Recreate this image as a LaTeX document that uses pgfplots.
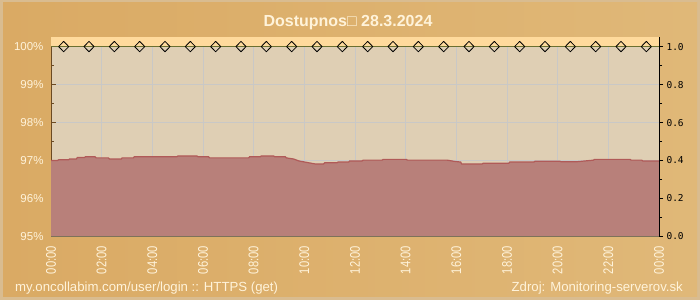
\documentclass[border=0pt]{standalone}
\usepackage{fontspec}
\setmainfont{Liberation Sans}
\newfontfamily\narrowfont[FakeStretch=0.8]{Liberation Sans}
\newfontfamily\footfont{Liberation Sans}
\newfontfamily\monofont{DejaVu Sans Mono}
\usepackage{pgfplots}
\pgfplotsset{compat=1.18}
\definecolor{bordc}{HTML}{D9BC90}
\definecolor{bgl}{HTML}{DAAA64}
\definecolor{bgr}{HTML}{E0B878}
\definecolor{cream}{HTML}{FFF3DA}
\definecolor{plotbg}{HTML}{DFCFB4}
\definecolor{bandc}{HTML}{FFDA9C}
\definecolor{areac}{HTML}{B8807A}
\definecolor{linec}{HTML}{B05A58}
\definecolor{gridc}{HTML}{C9C8C6}
\definecolor{olive}{HTML}{6B7030}
\definecolor{leftax}{HTML}{6B4A22}
\definecolor{botax}{HTML}{5E6B4A}

\pgfplotstableread{
h v
0 97.00
0.26 97.00
0.30 97.02
0.69 97.02
0.73 97.04
1.00 97.04
1.04 97.08
1.32 97.08
1.36 97.10
1.74 97.10
1.78 97.07
2.27 97.07
2.31 97.04
2.77 97.04
2.81 97.07
3.25 97.07
3.29 97.10
4.97 97.10
5.01 97.12
5.76 97.12
5.80 97.10
6.22 97.10
6.26 97.07
7.80 97.07
7.84 97.10
8.26 97.10
8.30 97.12
8.79 97.12
8.83 97.10
9.25 97.10
9.29 97.07
9.58 97.04
9.78 96.99
10.10 96.95
10.43 96.91
10.76 96.91
10.80 96.94
11.29 96.94
11.33 96.96
11.75 96.96
11.79 96.99
12.28 96.99
12.32 97.01
13.07 97.01
13.11 97.03
14.03 97.03
14.07 97.01
15.64 97.01
15.90 96.98
16.17 96.96
16.21 96.91
17.02 96.91
17.06 96.93
18.07 96.93
18.11 96.96
19.06 96.96
19.10 96.98
20.09 96.98
20.13 96.97
20.78 96.97
21.10 96.99
21.41 97.01
21.45 97.03
22.86 97.03
22.90 97.01
23.32 97.01
23.36 96.99
24.00 96.99
}\avail

\pgfplotstableread{
h v
0.5 100
1.5 100
2.5 100
3.5 100
4.5 100
5.5 100
6.5 100
7.5 100
8.5 100
9.5 100
10.5 100
11.5 100
12.5 100
13.5 100
14.5 100
15.5 100
16.5 100
17.5 100
18.5 100
19.5 100
20.5 100
21.5 100
22.5 100
23.5 100
}\marks

\begin{document}
\begin{tikzpicture}
\fill[bordc] (0bp,0bp) rectangle (700bp,300bp);
\shade[left color=bgl, right color=bgr] (3bp,3bp) rectangle (697bp,297bp);

\node[font=\fontsize{16bp}{18bp}\selectfont\bfseries, text=cream, anchor=base] at (348bp,273.3bp) {Dostupnos□ 28.3.2024};

\begin{axis}[
  at={(51bp,63.5bp)}, anchor=south west,
  scale only axis, width=608bp, height=199.8bp,
  xmin=0, xmax=24, ymin=95, ymax=100.26,
  axis background/.style={fill=plotbg},
  axis x line*=bottom, axis y line*=left,
  x axis line style={botax, line width=1bp, -},
  y axis line style={leftax, line width=1bp, -},
  xtick={0,2,...,24},
  xticklabels={00:00,02:00,04:00,06:00,08:00,10:00,12:00,14:00,16:00,18:00,20:00,22:00,00:00},
  minor x tick num=3,
  ytick={95,96,97,98,99,100},
  yticklabels={95\%,96\%,97\%,98\%,99\%,100\%},
  minor y tick num=1,
  tick align=inside,
  major tick length=5bp, minor tick length=3bp,
  xtick style={botax, line width=0.8bp},
  ytick style={leftax, line width=0.8bp},
  grid=major,
  major grid style={gridc, line width=0.8bp},
  xticklabel style={rotate=90, anchor=east, text=cream, font=\narrowfont\fontsize{14bp}{16bp}\selectfont},
  xticklabel shift=6bp,
  yticklabel style={text=cream, font=\fontsize{11.5bp}{13bp}\selectfont},
  yticklabel shift=4bp,
  clip=false,
]
\fill[bandc] (axis cs:0,100) rectangle (axis cs:24,100.26);
\addplot[fill=areac, draw=none] table[x=h,y=v] {\avail} \closedcycle;
\addplot[linec, line width=1.2bp] table[x=h,y=v] {\avail};
\addplot[olive, line width=1.2bp] coordinates {(0,100) (24,100)};
\addplot[only marks, mark=diamond, mark size=5.2bp,
  mark options={xscale=1.3, fill=bandc, draw=black, line width=0.8bp, line join=round}]
  table[x=h,y=v] {\marks};
\end{axis}

\begin{axis}[
  at={(51bp,63.5bp)}, anchor=south west,
  scale only axis, width=608bp, height=199.8bp,
  xmin=0, xmax=24, ymin=0, ymax=1.052,
  axis x line=none, axis y line*=right,
  y axis line style={black, line width=1bp, -},
  ytick={0,0.2,0.4,0.6,0.8,1.0},
  yticklabels={0.0,0.2,0.4,0.6,0.8,1.0},
  minor y tick num=1,
  tick align=outside,
  major tick length=4bp, minor tick length=3bp,
  ytick style={black, line width=0.8bp},
  yticklabel style={text=black, font=\monofont\fontsize{9.5bp}{11bp}\selectfont},
]
\end{axis}

\node[font=\footfont\fontsize{13.2bp}{15bp}\selectfont, text=cream, anchor=base west, inner sep=0pt] at (15bp,9bp) {my.oncollabim.com/user/login :: HTTPS (get)};
\node[font=\footfont\fontsize{13.2bp}{15bp}\selectfont, text=cream, anchor=base east, inner sep=0pt] at (683bp,9bp) {Zdroj: Monitoring-serverov.sk};

\pgfresetboundingbox
\useasboundingbox (0bp,0bp) rectangle (700bp,300bp);
\end{tikzpicture}
\end{document}
